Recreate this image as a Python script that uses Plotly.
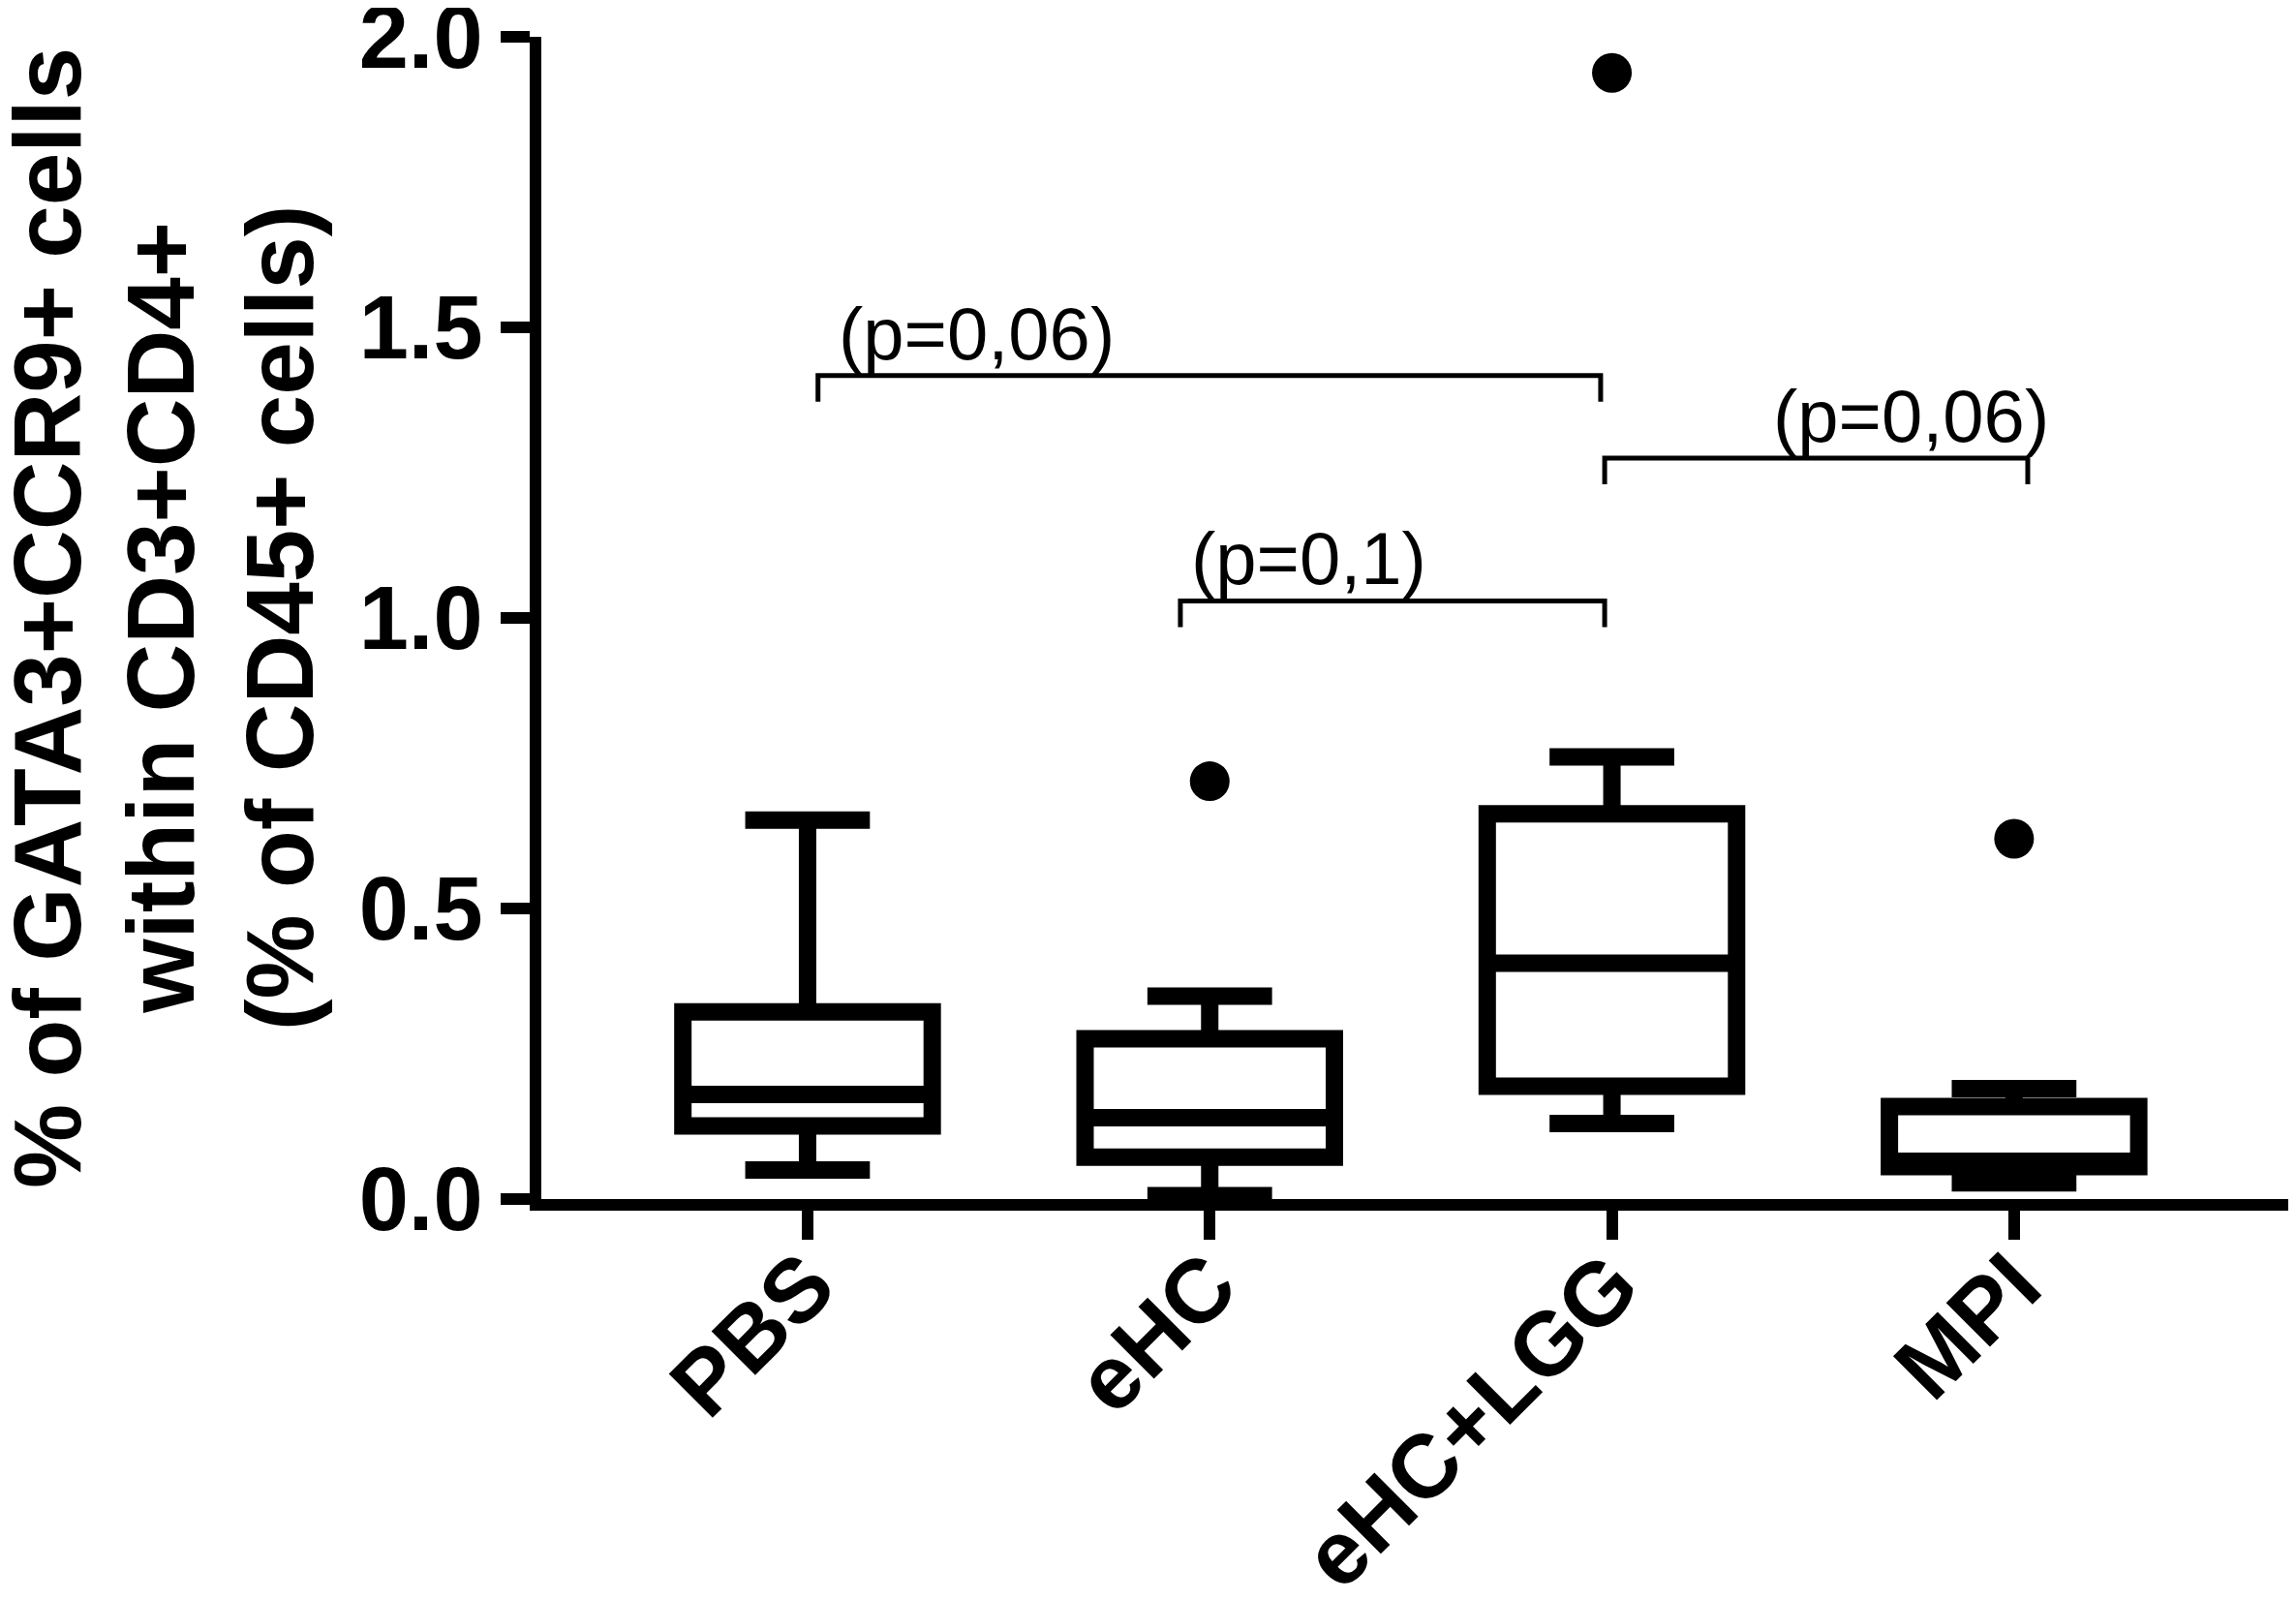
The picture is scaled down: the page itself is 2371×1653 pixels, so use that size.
import plotly.graph_objects as go

# groups and box statistics
groups = ["PBS", "eHC", "eHC+LGG", "MPI"]
lower = [0.050, 0.006, 0.130, 0.028]
q1 = [0.126, 0.072, 0.194, 0.056]
median = [0.180, 0.140, 0.406, 0.065]
q3 = [0.322, 0.276, 0.663, 0.159]
upper = [0.652, 0.349, 0.761, 0.190]

# outliers drawn as separate dots
out_group = ["eHC", "eHC+LGG", "MPI"]
out_value = [0.719, 1.938, 0.620]

# significance brackets: (from group, to group, bracket height, label)
br_from = ["PBS", "eHC", "eHC+LGG"]
br_to = ["eHC+LGG", "eHC+LGG", "MPI"]
br_height = [1.417, 1.029, 1.275]
br_label = ["(p=0,06)", "(p=0,1)", "(p=0,06)"]

y_ticks = [0.0, 0.5, 1.0, 1.5, 2.0]
y_title = ["% of GATA3+CCR9+ cells", "within CD3+CD4+", "(% of CD45+ cells)"]

FONT = "Liberation Sans, Arial, sans-serif"

fig = go.Figure()

fig.add_trace(go.Box(
    x=groups, q1=q1, median=median, q3=q3,
    lowerfence=lower, upperfence=upper,
    width=0.62, whiskerwidth=0.5,
    fillcolor="white", line=dict(color="black", width=18),
    boxpoints=False, hoverinfo="skip", showlegend=False,
))

fig.add_trace(go.Scatter(
    x=out_group, y=out_value, mode="markers",
    marker=dict(color="black", size=41),
    hoverinfo="skip", showlegend=False,
))

# bracket geometry (in axis units)
idx = {g: i for i, g in enumerate(groups)}
inset = [0.026, -0.073, -0.018]
end_in = [-0.028, -0.018, 0.034]
drop = 0.045
label_dx = [0.421, 1.247, 2.745]
label_dy = 0.073

for k in range(len(br_label)):
    x0 = idx[br_from[k]] + inset[k]
    x1 = idx[br_to[k]] + end_in[k]
    h = br_height[k]
    fig.add_shape(
        type="path", xref="x", yref="y",
        path=f"M {x0} {h - drop} L {x0} {h} L {x1} {h} L {x1} {h - drop}",
        line=dict(color="black", width=5),
    )
    fig.add_annotation(
        x=label_dx[k], y=h + label_dy, xref="x", yref="y",
        text=br_label[k], showarrow=False,
        font=dict(family=FONT, size=76, color="black"),
        xanchor="center", yanchor="middle",
    )

title_x = [-0.2815, -0.2170, -0.1490]
for line, xp in zip(y_title, title_x):
    fig.add_annotation(
        x=xp, y=0.5, xref="paper", yref="paper",
        text=line, textangle=-90, showarrow=False,
        font=dict(family=FONT, size=98, color="black", weight="bold"),
        xanchor="center", yanchor="middle",
    )

# the page body adds an 8 px margin, so the figure is 8 px smaller each way
fig.update_layout(
    width=2363, height=1645,
    margin=dict(l=551, r=0, t=30, b=415),
    paper_bgcolor="white", plot_bgcolor="white",
    font=dict(family=FONT, color="black"),
)

fig.update_xaxes(
    type="category", range=[-0.662, 3.701], automargin=False,
    showline=True, linecolor="black", linewidth=12,
    ticks="outside", ticklen=30, tickwidth=12, tickcolor="black",
    tickangle=-45, ticklabelstandoff=-45, showgrid=False, zeroline=False,
    tickfont=dict(family=FONT, size=93, color="black", weight="bold"),
)

fig.update_yaxes(
    range=[0, 2.0], tickvals=y_ticks, tickformat=".1f", automargin=False,
    showline=True, linecolor="black", linewidth=12,
    ticks="outside", ticklen=30, tickwidth=12, tickcolor="black",
    showgrid=False, zeroline=False, ticklabeloverflow="allow",
    tickfont=dict(family=FONT, size=92, color="black", weight="bold"),
)

fig.write_html("out.html")
